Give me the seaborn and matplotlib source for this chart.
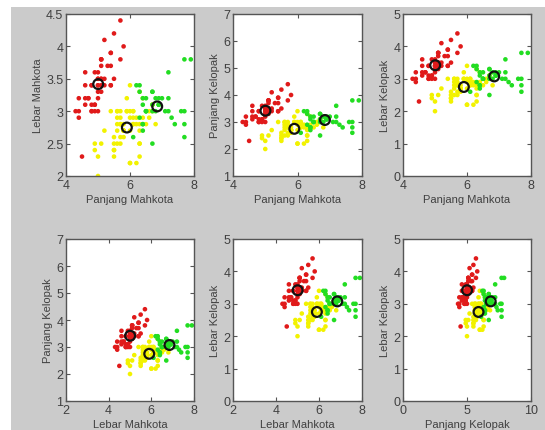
import matplotlib
matplotlib.use("Agg")
import matplotlib.pyplot as plt
import seaborn as sns
import pandas as pd
from matplotlib.patches import Rectangle

# ---- data (same point cloud drawn in every panel) ----
red_x = [5.1, 4.9, 4.7, 4.6, 5.0, 5.4, 4.6, 5.0, 4.4, 4.9, 5.4, 4.8, 4.8, 4.3, 5.8, 5.7, 5.4, 5.1, 5.7, 5.1,
         5.4, 5.1, 4.6, 5.1, 4.8, 5.0, 5.0, 5.2, 5.2, 4.7, 4.8, 5.4, 5.2, 5.5, 4.9, 5.0, 5.5, 4.9, 4.4, 5.1,
         5.0, 4.5, 4.4, 5.0, 5.1, 4.8, 5.1, 4.6, 5.3, 5.0]
red_y = [3.5, 3.0, 3.2, 3.1, 3.6, 3.9, 3.4, 3.4, 2.9, 3.1, 3.7, 3.4, 3.0, 3.0, 4.0, 4.4, 3.9, 3.5, 3.8, 3.8,
         3.4, 3.7, 3.6, 3.3, 3.4, 3.0, 3.4, 3.5, 3.4, 3.2, 3.1, 3.4, 4.1, 4.2, 3.1, 3.2, 3.5, 3.6, 3.0, 3.4,
         3.5, 2.3, 3.2, 3.5, 3.8, 3.0, 3.8, 3.2, 3.7, 3.3]
yellow_x = [6.4, 5.5, 6.5, 5.7, 6.3, 4.9, 6.6, 5.2, 5.0, 5.9, 6.0, 6.1, 5.6, 6.7, 5.6, 5.8, 6.2, 5.6, 5.9, 6.1,
            6.3, 6.1, 6.4, 6.6, 6.8, 6.0, 5.7, 5.5, 5.5, 5.8, 6.0, 5.4, 6.0, 6.7, 6.3, 5.6, 5.5, 5.5, 6.1, 5.8,
            5.0, 5.6, 5.7, 5.7, 6.2, 5.1, 5.7, 6.7,
            5.8, 4.9, 5.7, 5.8, 6.0, 5.6, 6.3, 6.2, 6.1, 6.3, 6.0, 5.8, 6.3, 5.9]
yellow_y = [3.2, 2.3, 2.8, 2.8, 3.3, 2.4, 2.9, 2.7, 2.0, 3.0, 2.2, 2.9, 2.9, 3.1, 3.0, 2.7, 2.2, 2.5, 3.2, 2.8,
            2.5, 2.8, 2.9, 3.0, 2.8, 2.9, 2.6, 2.4, 2.4, 2.7, 2.7, 3.0, 3.4, 3.1, 2.3, 3.0, 2.5, 2.6, 3.0, 2.6,
            2.3, 2.7, 3.0, 2.9, 2.9, 2.5, 2.8, 3.0,
            2.7, 2.5, 2.5, 2.8, 2.2, 2.8, 2.7, 2.8, 3.0, 2.8, 3.0, 2.7, 2.5, 3.0]
green_x = [7.0, 6.9, 6.3, 7.1, 6.3, 6.5, 7.6, 7.3, 6.7, 7.2, 6.5, 6.4, 6.8, 6.4, 6.5, 7.7, 7.7, 6.9, 7.7, 6.7,
           7.2, 6.4, 7.2, 7.4, 7.9, 6.4, 6.1, 7.7, 6.3, 6.4, 6.9, 6.7, 6.9, 6.8, 6.7, 6.7, 6.5, 6.2]
green_y = [3.2, 3.1, 3.3, 3.0, 2.9, 3.0, 3.0, 2.9, 2.5, 3.6, 3.2, 2.7, 3.0, 3.2, 3.0, 3.8, 2.6, 3.2, 2.8, 3.3,
           3.2, 2.8, 3.0, 2.8, 3.8, 2.8, 2.6, 3.0, 3.4, 3.1, 3.1, 3.1, 3.1, 3.2, 3.3, 3.0, 3.0, 3.4]
centroid_x = [5.006, 5.902, 6.850]
centroid_y = [3.418, 2.748, 3.074]

cluster_names = ["Cluster 1", "Cluster 2", "Cluster 3"]
cluster_colors = ["#e01a1a", "#f2f200", "#22dd22"]

x_labels = ["Panjang Mahkota", "Panjang Mahkota", "Panjang Mahkota",
            "Lebar Mahkota", "Lebar Mahkota", "Panjang Kelopak"]
y_labels = ["Lebar Mahkota", "Panjang Kelopak", "Lebar Kelopak",
            "Panjang Kelopak", "Lebar Kelopak", "Lebar Kelopak"]
x_limits = [(4, 8), (4, 8), (4, 8), (2, 8), (2, 8), (0, 10)]
y_limits = [(2, 4.5), (1, 7), (0, 5), (1, 7), (0, 5), (0, 5)]
x_ticks = [[4, 6, 8], [4, 6, 8], [4, 6, 8], [2, 4, 6, 8], [2, 4, 6, 8], [0, 5, 10]]
y_ticks = [[2, 2.5, 3, 3.5, 4, 4.5], [1, 2, 3, 4, 5, 6, 7], [0, 1, 2, 3, 4, 5],
           [1, 2, 3, 4, 5, 6, 7], [0, 1, 2, 3, 4, 5], [0, 1, 2, 3, 4, 5]]

points = pd.DataFrame({
    "x": red_x + yellow_x + green_x,
    "y": red_y + yellow_y + green_y,
    "cluster": [cluster_names[0]] * len(red_x) + [cluster_names[1]] * len(yellow_x)
               + [cluster_names[2]] * len(green_x),
})
centroids = pd.DataFrame({"x": centroid_x, "y": centroid_y})

# ---- figure ----
sns.set_style("white")
plt.rcParams["font.family"] = ["Liberation Sans", "DejaVu Sans"]
W, H = 545, 431
fig = plt.figure(figsize=(W / 100, H / 100), dpi=100, facecolor="white")
fig.patches.append(Rectangle((11 / W, 0), 1 - 11 / W, 1 - 8 / H, transform=fig.transFigure,
                             facecolor="#cbcbcb", edgecolor="none", zorder=-10))

cols = [(66, 194), (233, 362), (403, 531)]
rows = [(15, 177), (240, 402)]
text_color = "#404040"

for i in range(6):
    (l, r) = cols[i % 3]
    (t, b) = rows[i // 3]
    ax = fig.add_axes([l / W, 1 - b / H, (r - l) / W, (b - t) / H])
    ax.set_facecolor("white")
    sns.scatterplot(data=points, x="x", y="y", hue="cluster", palette=cluster_colors,
                    hue_order=cluster_names, s=11, linewidth=0, legend=False, ax=ax, zorder=2)
    sns.scatterplot(data=centroids, x="x", y="y", s=50, facecolor="none", edgecolor="#111111",
                    linewidth=1.6, legend=False, ax=ax, zorder=3)
    ax.set_xlim(*x_limits[i])
    ax.set_ylim(*y_limits[i])
    ax.set_xticks(x_ticks[i])
    ax.set_yticks(y_ticks[i])
    ax.set_xticklabels([f"{v:g}" for v in x_ticks[i]])
    ax.set_yticklabels([f"{v:g}" for v in y_ticks[i]])
    ax.tick_params(direction="in", length=3, width=0.8, colors="#555555", labelcolor=text_color,
                   labelsize=9, top=True, right=True, bottom=True, left=True, pad=2)
    ax.set_xlabel(x_labels[i], fontsize=8, color=text_color, labelpad=2)
    ax.set_ylabel(y_labels[i], fontsize=8, color=text_color, labelpad=2)
    for sp in ax.spines.values():
        sp.set_visible(True)
        sp.set_color("#555555")
        sp.set_linewidth(1.0)

fig.savefig("out.png", dpi=100, facecolor=fig.get_facecolor())
